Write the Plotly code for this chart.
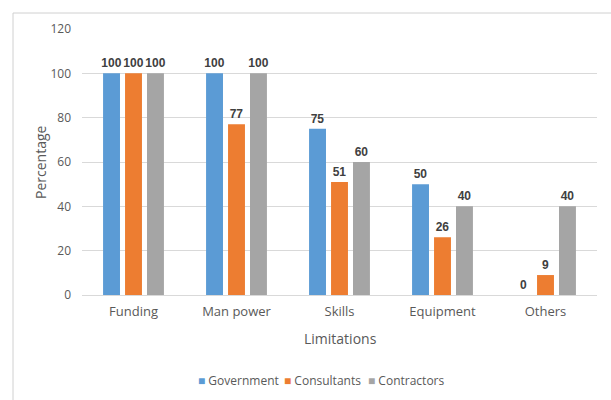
import plotly.graph_objects as go

categories = ["Funding", "Man power", "Skills", "Equipment", "Others"]
government = [100, 100, 75, 50, 0]
consultants = [100, 77, 51, 26, 9]
contractors = [100, 100, 60, 40, 40]
series_names = ["Government", "Consultants", "Contractors"]
colors = ["#5B9BD5", "#ED7D31", "#A5A5A5"]
y_ticks = [0, 20, 40, 60, 80, 100, 120]

FONT = "Open Sans, sans-serif"
LABEL_FONT = "Liberation Sans, Arial, sans-serif"

fig = go.Figure()
for name, vals, c in zip(series_names, [government, consultants, contractors], colors):
    fig.add_trace(go.Bar(
        name=name, x=categories, y=vals, marker=dict(color=c, line=dict(width=0)),
        text=[str(v) for v in vals], textposition="outside", cliponaxis=False,
        constraintext="none", showlegend=False,
        textfont=dict(family=LABEL_FONT, size=12, color="#404040", weight="bold"),
    ))

W, H = 611, 400
L, R, T, B = 82, 14, 29, 105
pw, ph = W - L - R, H - T - B

def px_x(x):
    return (x - L) / pw

def px_y(y):
    return (H - B - y) / ph

# legend drawn as text annotations (square marker + series name)
legend_x = [196, 282, 366]
annotations = []
for name, c, lx in zip(series_names, colors, legend_x):
    annotations.append(dict(
        text=f"<span style='color:{c}'>■</span> {name}", xref="paper", yref="paper",
        x=px_x(lx), y=px_y(380), xanchor="left", yanchor="middle", showarrow=False,
        font=dict(size=12, color="#595959", family=FONT)))

annotations += [
    dict(text="Limitations", xref="paper", yref="paper", x=px_x(340), y=px_y(338),
         showarrow=False, font=dict(size=14, color="#595959"), xanchor="center", yanchor="middle"),
    dict(text="Percentage", xref="paper", yref="paper", x=px_x(40), y=px_y(162),
         showarrow=False, textangle=-90, font=dict(size=14, color="#595959"),
         xanchor="center", yanchor="middle"),
]

fig.update_layout(
    width=W, height=H,
    margin=dict(l=L, r=R, t=T, b=B),
    paper_bgcolor="white", plot_bgcolor="white",
    barmode="group", bargap=0.36, bargroupgap=0.23,
    font=dict(family=FONT, color="#595959", size=12),
    showlegend=False,
    xaxis=dict(showgrid=False, showline=True, linecolor="#D9D9D9", linewidth=1,
               tickfont=dict(size=13, color="#595959"), ticks="", ticklabelstandoff=4),
    yaxis=dict(range=[0, 120], tickvals=y_ticks, showgrid=True, gridcolor="#D9D9D9",
               zeroline=False, tickfont=dict(size=12, color="#595959"), ticks="",
               ticklabelstandoff=10),
    annotations=annotations,
    shapes=[
        dict(type="line", xref="paper", yref="paper", x0=px_x(13), x1=px_x(13),
             y0=px_y(400), y1=px_y(13), line=dict(color="#D0D0D0", width=1)),
        dict(type="line", xref="paper", yref="paper", x0=px_x(13), x1=px_x(611),
             y0=px_y(13), y1=px_y(13), line=dict(color="#D0D0D0", width=1)),
    ],
)

fig.write_html("out.html")
